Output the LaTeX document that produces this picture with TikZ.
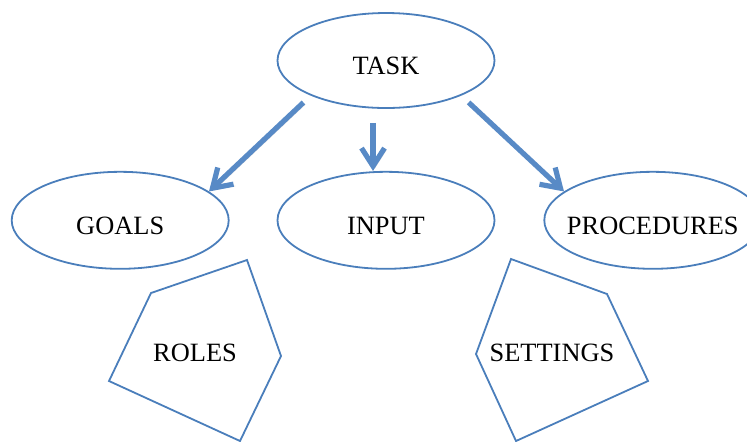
\documentclass[tikz,border=0pt]{standalone}
\usepackage{fontspec}
\setmainfont{Liberation Serif}
\usetikzlibrary{arrows.meta, positioning, shapes.geometric}
\definecolor{wordblue}{RGB}{74,126,187}
\definecolor{arrowblue}{RGB}{88,138,198}

\begin{document}
\begin{tikzpicture}[
    x=0.5pt, y=-0.5pt,
    font=\fontsize{13.2}{16}\selectfont,
    oval/.style={draw=wordblue, line width=0.9pt, ellipse, minimum width=108.5pt, minimum height=48.5pt, text height=14pt, text depth=0pt},
    penta/.style={draw=wordblue, line width=0.9pt, line join=miter},
    flow/.style={draw=arrowblue, line width=2.6pt, -{Straight Barb[length=9pt, width=11.5pt]},
      preaction={draw=black!35, opacity=0.35, transform canvas={shift={(0.9pt,-0.9pt)}}}}
  ]
    \useasboundingbox (0,0) rectangle (747,441);
    \clip (0,0) rectangle (747,441);

    % ovals
    \node[oval, minimum height=47.5pt] (task) at (386,60.5) {TASK};
    \node[oval, below=31pt of task] (input) {INPUT};
    \node[oval, left=23.5pt of input] (goals) {GOALS};
    \node[oval, right=24pt of input] (procedures) {\makebox[0pt]{PROCEDURES}};

    % Arrows
    \draw[flow, shorten <=5pt] (task.205) -- (goals.18);
    \draw[flow, shorten <=7pt] ([xshift=-6.5pt]task.south) -- ([xshift=-6.5pt]input.north);
    \draw[flow, shorten <=5pt] (task.-25) -- (procedures.162);

    % pentagons
    \node (roles) at (195,353) {ROLES};
    \draw[penta] (151,293) -- (247,260) -- (281,356) -- (240,441) -- (109,381) -- cycle;
    \node (settings) at (552,353) {SETTINGS};
    \draw[penta] (511,259) -- (607,294) -- (648,381) -- (516,441) -- (476,354) -- cycle;
  \end{tikzpicture}
\end{document}
